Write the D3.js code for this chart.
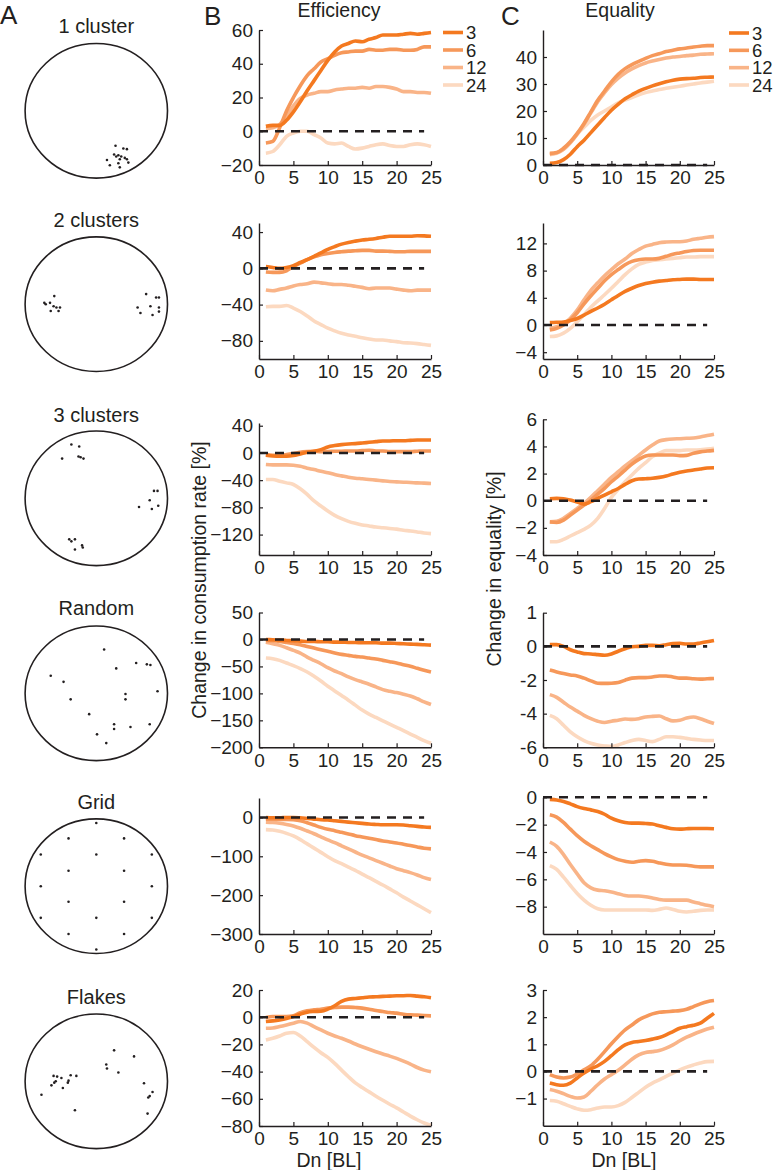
<!DOCTYPE html>
<html><head><meta charset="utf-8">
<script src="https://cdn.jsdelivr.net/npm/d3@7"></script>
<style>
body{margin:0;background:#fff}
text{font-family:"Liberation Sans",Arial,Helvetica,sans-serif;fill:#231f20}
</style>
</head><body>
<svg id="fig" width="774" height="1170"></svg>
<script>
// ---------------- DATA ----------------
const dn = d3.range(1, 26);                 // Dn [BL] = 1..25
const seriesNames = ["3", "6", "12", "24"];
const layoutNames = ["1 cluster", "2 clusters", "3 clusters", "Random", "Grid", "Flakes"];
const xTicks = [0, 5, 10, 15, 20, 25];

// Efficiency (change in consumption rate, %) — one array per series [3, 6, 12, 24]
const eff1Cluster = [
  [3,3.5,3.5,6.5,11.5,17.5,24,30,36,42,47,50.5,52,53.5,53,54.5,55.5,57,57,57,57.5,58,57.5,58,58.5],
  [-7,-6,2,12,20,27,33,37,41,43,45,46.5,47,47.5,47.5,48.5,48,48,48.5,48.5,48,48,48.5,50,50],
  [1.5,2,4,9,15,19.5,21.5,22.5,23.5,23.5,24.5,25,25.5,25.5,26,25.5,26.5,26.5,26,25,23.5,23.5,23,23,22.5],
  [-13,-12,-8,-3,-1,0,0,-2,-4,-7,-7.5,-7,-9,-10.5,-10,-9,-8,-7.5,-8.5,-9,-9,-8,-7.5,-8,-9]
];
const eff2Clusters = [
  [2,1,0,1,3,6.5,9.5,13.3,17,21,24,26.7,28.6,30,31.2,32,33,34.3,35.4,35.4,35.4,35.4,36,35.8,35.4],
  [-4,-4.5,-4.5,-2.7,2,5.7,9.5,12.6,15,16.4,17.5,18.3,19,19.4,19.8,19.8,19,19,18.7,18.3,18.3,18.7,18.7,18.7,18.7],
  [-24,-24.8,-23.2,-21.7,-19.4,-17.9,-17.1,-15.2,-16,-17,-17.9,-17.9,-18.7,-19.8,-21,-22.5,-21.7,-21.7,-21.7,-22.9,-24,-24.8,-24,-24,-24],
  [-42.3,-42,-42,-41,-43.8,-47.6,-52.6,-58,-62,-66,-69,-71.6,-73.5,-75,-76.6,-78,-79,-79,-80,-80.8,-82,-82.3,-83,-84,-85]
];
const eff3Clusters = [
  [-3.4,-4.4,-4.9,-4.9,-3.9,-1.5,1,2.5,4.9,8.8,10.8,12.2,13.2,13.7,14.6,15.6,16.6,17.6,17.6,18,18,18.5,19,19,19],
  [-2.5,-3.4,-3.4,-2.5,-1,1,2,2.5,2,2,2.5,2.5,2.9,2.9,3.4,3.9,2.9,2.9,2,2,2,2,2.5,2.9,2.9],
  [-17,-17.6,-17.6,-17.6,-18,-19.5,-22.4,-24.4,-27,-29,-31.7,-33.7,-35.7,-37.1,-38,-39,-40,-41,-42,-42.5,-43,-43.4,-44,-44.4,-44.9],
  [-39,-39,-41.5,-44,-46.4,-52.7,-61,-70.5,-78,-85.4,-91.8,-96.6,-100.6,-103.5,-105.8,-107.3,-108.9,-109.9,-111,-112,-113.6,-114.7,-116.1,-117.6,-118.6]
];
const effRandom = [
  [0,-0.6,-1.2,-1.8,-2.5,-3,-3.7,-3.7,-4.3,-4.3,-5,-5,-5.5,-5.5,-6.2,-6.2,-6.2,-6.8,-6.8,-7.4,-8,-8.6,-9.2,-9.8,-10.5],
  [-1.8,-2.5,-3.7,-5.5,-7.4,-9.8,-13,-16,-19,-22,-25,-27.7,-29.5,-31.4,-32.6,-34.5,-36.3,-38.8,-41.2,-43.7,-46.8,-49.8,-53.5,-57.2,-60.3],
  [-5,-8,-11,-15.4,-20.3,-25.2,-32.6,-38.8,-45,-52.3,-58.5,-63.4,-69.5,-74.5,-78.8,-83,-88,-93,-96,-98.5,-101.5,-105,-110,-115.7,-120.6],
  [-34.5,-35.7,-38.8,-43.7,-48.6,-54,-60.3,-68.3,-77,-86.8,-95.4,-104,-112.6,-121.8,-131,-138.5,-144.6,-150.8,-157,-163,-169,-175.4,-181.5,-187.7,-192.6]
];
const effGrid = [
  [0,-1,-1,0,0,-1,-2.6,-4.3,-6,-6.8,-8.5,-10.2,-12,-13.6,-15.3,-17,-18,-18.8,-18.8,-18.8,-19.6,-21.3,-23,-24.7,-25.6],
  [-4.3,-4.3,-5,-5,-6,-8.5,-13.6,-19.6,-25.6,-30.7,-34,-38.4,-42.6,-46.9,-50.3,-53.7,-57,-60.5,-63,-65.6,-69,-72.5,-75.9,-79.3,-81],
  [-12,-13,-15,-18,-22,-28,-35,-42,-50,-58,-65,-73,-81,-89,-97,-104,-111,-118,-125,-132,-137,-142,-148,-155,-160],
  [-31.5,-32.4,-35.8,-41,-47.7,-57,-68,-79,-90,-101,-111,-119,-128,-136,-146,-155,-164.5,-174,-184,-194,-205,-215,-225,-235,-245]
];
const effFlakes = [
  [-3.2,-2.7,-2,-1,0.5,2.2,3.7,4.2,4.4,5.9,8.4,11.6,13.3,13.8,14.3,14.8,15,15.3,15.5,15.8,15.8,16,15.5,15,14.3],
  [-0.2,0.5,0.5,0.5,1,3.4,4.7,5.4,5.9,6.7,7.1,7.4,7.4,7.1,6.7,5.9,4.9,4.2,3.4,3,2.2,1.7,1.5,1.2,1],
  [-8.1,-7.9,-6.9,-5.7,-4.4,-3.2,-4.4,-6.9,-9.4,-11.8,-13.8,-15.5,-17.5,-19.7,-21.7,-23.6,-25.4,-27.1,-28.6,-30.3,-32.3,-34.5,-37,-38.9,-40.1],
  [-16.7,-15.5,-13.8,-11.8,-11.3,-13.8,-18,-22.2,-26.1,-29.6,-34,-38.9,-43.8,-48.3,-51.7,-54.9,-58.1,-61.1,-64,-66.7,-69.7,-72.7,-75.4,-77.8,-79.6]
];

// Equality (change in equality, %)
const eq1Cluster = [
  [0.6,0.9,2,4,6.8,9.2,12,14.8,17.6,20.3,22.5,24.5,26,27.4,28.4,29.3,30.1,30.8,31.4,31.8,32,32.1,32.4,32.5,32.6],
  [4.3,4.6,6.2,8.6,11.7,15.4,19.7,24,27.4,30.8,33.6,35.7,37.2,38.4,39.5,40.5,41.2,42,42.5,43,43.3,43.7,44,44.2,44.2],
  [4,4.5,5.8,8.2,11.4,15.1,19.3,23.4,26.8,29.8,32.2,34.1,35.6,36.8,37.8,38.5,39.1,39.6,40,40.2,40.5,40.7,41,41.1,41.2],
  [3.8,4.3,5.8,8.5,11.5,14,16.5,18.5,20,21.5,23,24,25,26,26.8,27.4,28,28.4,28.8,29.2,29.6,30,30.4,30.7,31]
];
const eq2Clusters = [
  [0.35,0.4,0.45,0.65,0.95,1.45,2,2.5,3.05,3.7,4.35,4.95,5.4,5.8,6.1,6.3,6.45,6.55,6.65,6.7,6.75,6.75,6.7,6.7,6.7],
  [-0.75,-0.5,0,0.75,1.8,3.1,4.3,5.4,6.5,7.4,8.15,8.85,9.35,9.6,9.7,9.7,9.8,10.1,10.4,10.6,10.8,10.95,11,11,11],
  [-0.5,-0.25,0.15,1,2.2,3.7,5.1,6.2,7.25,8.15,9,9.7,10.5,11.1,11.6,11.85,12.1,12.2,12.25,12.25,12.35,12.6,12.75,12.9,13],
  [-1.7,-1.6,-1.2,-0.5,0.5,1.5,2.6,3.55,4.45,5.4,6.4,7.4,8.25,8.9,9.25,9.5,9.6,9.7,9.8,9.9,10,10,10.05,10.05,10.05]
];
const eq3Clusters = [
  [0.15,0.17,0.15,0.05,-0.1,-0.25,-0.07,0.17,0.42,0.66,0.9,1.2,1.47,1.6,1.62,1.65,1.72,1.82,1.97,2.1,2.19,2.26,2.34,2.41,2.43],
  [-1.57,-1.6,-1.43,-1.06,-0.69,-0.32,0.05,0.49,0.91,1.4,1.82,2.26,2.7,3.05,3.3,3.37,3.37,3.37,3.37,3.32,3.34,3.5,3.6,3.66,3.71],
  [-1.55,-1.52,-1.3,-0.93,-0.57,-0.2,0.25,0.74,1.23,1.72,2.14,2.56,2.95,3.34,3.74,4.1,4.4,4.5,4.55,4.57,4.6,4.62,4.7,4.8,4.9],
  [-3.02,-3.02,-2.85,-2.6,-2.36,-2.11,-1.8,-1.3,-0.57,0.25,0.84,1.4,1.9,2.39,2.8,3.25,3.5,3.69,3.69,3.69,3.74,3.74,3.76,3.81,3.86]
];
const eqRandom = [
  [0.1,0.1,0,-0.2,-0.33,-0.43,-0.45,-0.49,-0.53,-0.45,-0.29,-0.14,-0.02,0,0.06,0.06,0.04,0.1,0.16,0.18,0.14,0.14,0.2,0.27,0.35],
  [-1.41,-1.52,-1.62,-1.7,-1.76,-1.89,-2.05,-2.19,-2.2,-2.19,-2.15,-2.01,-1.89,-1.86,-1.86,-1.82,-1.76,-1.76,-1.82,-1.89,-1.89,-1.93,-1.95,-1.93,-1.91],
  [-2.87,-3.03,-3.32,-3.61,-3.85,-4.1,-4.3,-4.45,-4.53,-4.45,-4.39,-4.32,-4.34,-4.3,-4.2,-4.16,-4.14,-4.3,-4.43,-4.39,-4.26,-4.2,-4.3,-4.45,-4.59],
  [-4.1,-4.3,-4.69,-5.08,-5.37,-5.6,-5.76,-5.86,-5.92,-5.96,-5.86,-5.72,-5.6,-5.53,-5.6,-5.66,-5.53,-5.37,-5.37,-5.41,-5.47,-5.53,-5.57,-5.6,-5.6]
];
const eqGrid = [
  [-0.15,-0.2,-0.3,-0.48,-0.68,-0.82,-0.92,-1.04,-1.24,-1.53,-1.72,-1.84,-1.89,-1.89,-1.92,-1.96,-2.08,-2.2,-2.3,-2.33,-2.3,-2.28,-2.28,-2.28,-2.3],
  [-1.28,-1.45,-1.84,-2.33,-2.81,-3.22,-3.54,-3.83,-4.12,-4.36,-4.56,-4.68,-4.75,-4.68,-4.63,-4.68,-4.8,-4.9,-4.95,-4.95,-4.97,-5.04,-5.09,-5.09,-5.09],
  [-3.27,-3.59,-4.19,-4.92,-5.6,-6.25,-6.62,-6.79,-6.84,-6.93,-7.05,-7.18,-7.22,-7.22,-7.27,-7.37,-7.47,-7.52,-7.52,-7.52,-7.52,-7.66,-7.78,-7.9,-8],
  [-5,-5.28,-5.84,-6.45,-7.03,-7.52,-7.9,-8.15,-8.24,-8.24,-8.24,-8.24,-8.24,-8.24,-8.24,-8.27,-8.2,-8.1,-8.2,-8.34,-8.39,-8.34,-8.27,-8.24,-8.24]
];
const eqFlakes = [
  [-0.43,-0.49,-0.51,-0.43,-0.24,-0.06,0.09,0.21,0.37,0.58,0.8,0.98,1.07,1.1,1.14,1.19,1.25,1.35,1.47,1.59,1.65,1.7,1.78,1.96,2.14],
  [-0.12,-0.21,-0.24,-0.21,-0.09,0.06,0.21,0.45,0.73,1.02,1.29,1.53,1.71,1.9,2.02,2.12,2.18,2.2,2.22,2.24,2.29,2.39,2.49,2.57,2.61],
  [-0.67,-0.73,-0.82,-0.92,-0.98,-0.94,-0.73,-0.49,-0.28,-0.12,0.04,0.24,0.45,0.61,0.7,0.73,0.77,0.86,0.98,1.13,1.26,1.37,1.47,1.56,1.63],
  [-1.07,-1.1,-1.19,-1.29,-1.38,-1.43,-1.41,-1.35,-1.31,-1.31,-1.26,-1.14,-0.96,-0.77,-0.58,-0.43,-0.31,-0.18,-0.06,0.06,0.16,0.24,0.31,0.36,0.37]
];

const effDomains = [[-20,60],[-100,50],[-150,44],[-200,50],[-300,50],[-80,20]];
const effTicks = [[-20,0,20,40,60],[-80,-40,0,40],[-120,-80,-40,0,40],[-200,-150,-100,-50,0,50],[-300,-200,-100,0],[-80,-60,-40,-20,0,20]];
const eqDomains = [[0,50],[-5,15],[-4,6],[-6,2],[-10,0],[-2,3]];
const eqTicks = [[0,10,20,30,40],[-4,0,4,8,12],[-4,-2,0,2,4,6],[-6,-4,-2,0,2],[-8,-6,-4,-2,0],[-1,0,1,2,3]];
// tick labels as printed in the figure (the top tick of the "Random" equality panel reads "1")
const eqTickLabels = [null, null, null, ["-6","-4","-2","0","1"], null, null];

// Fish positions in the arena (unit-circle coordinates, y downward)
const pos1Cluster = [[0.27,0.52],[0.38,0.56],[0.43,0.57],[0.25,0.65],[0.31,0.66],[0.28,0.68],[0.35,0.68],[0.40,0.70],[0.33,0.72],[0.43,0.72],[0.15,0.73],[0.45,0.77],[0.31,0.78],[0.19,0.81],[0.33,0.84]];
const pos2Clusters = [[-0.59,-0.12],[-0.73,-0.02],[-0.71,0.00],[-0.65,-0.02],[-0.60,0.03],[-0.56,0.05],[-0.51,0.05],[-0.64,0.10],[-0.53,0.10],
  [0.70,-0.15],[0.84,-0.10],[0.88,-0.10],[0.58,0.05],[0.76,0.03],[0.88,0.05],[0.62,0.13],[0.79,0.16],[0.88,0.11]];
const pos3Clusters = [[-0.35,-0.80],[-0.24,-0.77],[-0.48,-0.59],[-0.25,-0.62],[-0.22,-0.61],[-0.18,-0.59],
  [0.81,-0.11],[0.86,-0.11],[0.75,0.03],[0.60,0.13],[0.78,0.16],[0.87,0.11],
  [-0.38,0.61],[-0.35,0.64],[-0.30,0.61],[-0.30,0.76],[-0.20,0.70],[-0.19,0.73]];
const posRandom = [[0.11,-0.65],[0.28,-0.37],[0.56,-0.45],[0.71,-0.43],[0.76,-0.42],[-0.64,-0.26],[-0.46,-0.17],[0.86,-0.03],[-0.36,0.09],[0.41,0.01],[0.41,0.09],[-0.10,0.31],[0.25,0.46],[0.25,0.53],[0.48,0.50],[0.75,0.46],[0.01,0.61],[0.14,0.74]];
const posGrid = [[0,-0.94],[-0.39,-0.71],[0.39,-0.71],[-0.78,-0.47],[0,-0.47],[0.78,-0.47],[-0.39,-0.23],[0.39,-0.23],[-0.78,0],[0.78,0],[-0.39,0.23],[0.39,0.23],[-0.78,0.47],[0,0.47],[0.78,0.47],[-0.39,0.71],[0.39,0.71],[0,0.94]];
const posFlakes = [[0.25,-0.46],[0.53,-0.37],[0.14,-0.25],[0.15,-0.19],[0.31,-0.13],[-0.60,-0.08],[-0.55,-0.07],[-0.49,-0.05],[-0.57,0.00],[-0.59,0.02],[-0.63,0.06],[-0.36,-0.09],[-0.28,-0.08],[-0.39,-0.01],[-0.40,0.02],[-0.47,0.10],[0.67,0.03],[0.79,0.16],[0.75,0.22],[0.73,0.24],[-0.77,0.20],[-0.30,0.43],[0.72,0.48]];

const effData = [eff1Cluster, eff2Clusters, eff3Clusters, effRandom, effGrid, effFlakes];
const eqData = [eq1Cluster, eq2Clusters, eq3Clusters, eqRandom, eqGrid, eqFlakes];
const posData = [pos1Cluster, pos2Clusters, pos3Clusters, posRandom, posGrid, posFlakes];

// ---------------- LAYOUT / STYLE ----------------
const colors = ["#F47920", "#F6985A", "#F9B488", "#FCD9C0"];
const ink = "#231f20";
const FS = 19;
const effX = [259, 431], eqX = [543, 714];
const effTop = [30, 223, 423, 612.5, 798, 990], effBot = [165, 359, 555, 747.3, 934, 1126];
const eqTop = [30, 223, 419.3, 612.7, 797.3, 990], eqBot = [165, 359, 555, 747.3, 934, 1125.7];
const circCx = 96.3, circRx = 71.2, circRy = 67.3;
const circCy = [110.8, 304.2, 498.3, 693.3, 886.2, 1081.3];
const titleY = [33, 227, 422, 615, 809, 1004];

const svg = d3.select("#fig");

function panel(data, domain, ticks, labels, xr, top, bot, legend) {
  const x = d3.scaleLinear().domain([0, 25]).range(xr);
  const y = d3.scaleLinear().domain(domain).range([bot, top]);
  const g = svg.append("g");
  const line = d3.line().x((d, i) => x(dn[i])).y(d => y(d)).curve(d3.curveMonotoneX);
  for (let s = 3; s >= 0; s--) {
    g.append("path").attr("d", line(data[s])).attr("fill", "none")
      .attr("stroke", colors[s]).attr("stroke-width", 3.6)
      .attr("stroke-linejoin", "round").attr("stroke-linecap", "butt");
  }
  g.append("line").attr("x1", x(0)).attr("x2", x(24)).attr("y1", y(0)).attr("y2", y(0))
    .attr("stroke", ink).attr("stroke-width", 2.6).attr("stroke-dasharray", "9,7");
  const ax = g.append("g").attr("transform", `translate(0,${bot})`)
    .call(d3.axisBottom(x).tickValues(xTicks).tickFormat(d3.format("d")).tickSize(-4).tickSizeOuter(0).tickPadding(6));
  const yFmt = labels ? (d, i) => labels[i] : d3.format("d");
  const ay = g.append("g").attr("transform", `translate(${xr[0]},0)`)
    .call(d3.axisLeft(y).tickValues(ticks).tickFormat(yFmt).tickSize(-4).tickSizeOuter(0).tickPadding(6));
  [ax, ay].forEach(a => {
    a.attr("font-family", null).attr("font-size", FS);
    a.select(".domain").attr("stroke", ink).attr("stroke-width", 1.4);
    a.selectAll(".tick line").attr("stroke", ink).attr("stroke-width", 1.2);
    a.selectAll(".tick text").attr("fill", ink);
  });
  if (legend) {
    const ly = d3.scalePoint().domain(seriesNames).range([legend.y0, legend.y1]);
    seriesNames.forEach((n, i) => {
      g.append("line").attr("x1", legend.x).attr("x2", legend.x + 20)
        .attr("y1", ly(n)).attr("y2", ly(n)).attr("stroke", colors[i]).attr("stroke-width", 3.6);
      g.append("text").attr("x", legend.x + 23).attr("y", ly(n)).attr("dy", "0.36em")
        .attr("font-size", 18.5).text(n);
    });
  }
}

for (let r = 0; r < 6; r++) {
  panel(effData[r], effDomains[r], effTicks[r], null, effX, effTop[r], effBot[r],
        r === 0 ? {x: 443, y0: 32.5, y1: 85} : null);
  panel(eqData[r], eqDomains[r], eqTicks[r], eqTickLabels[r], eqX, eqTop[r], eqBot[r],
        r === 0 ? {x: 729, y0: 33, y1: 85} : null);

  const cy = circCy[r];
  const ux = d3.scaleLinear().domain([-1, 1]).range([circCx - circRx, circCx + circRx]);
  const uy = d3.scaleLinear().domain([-1, 1]).range([cy - circRy, cy + circRy]);
  svg.append("ellipse").attr("cx", ux(0)).attr("cy", uy(0)).attr("rx", circRx).attr("ry", circRy)
    .attr("fill", "none").attr("stroke", ink).attr("stroke-width", 1.6);
  svg.append("g").selectAll("circle").data(posData[r]).join("circle")
    .attr("cx", d => ux(d[0])).attr("cy", d => uy(d[1])).attr("r", 1.3).attr("fill", ink);
  svg.append("text").attr("x", circCx).attr("y", titleY[r]).attr("text-anchor", "middle")
    .attr("font-size", 20).text(layoutNames[r]);
}

svg.append("text").attr("x", 0).attr("y", 24).attr("font-size", 26).text("A");
svg.append("text").attr("x", 204).attr("y", 25).attr("font-size", 26).text("B");
svg.append("text").attr("x", 501).attr("y", 25).attr("font-size", 26).text("C");
svg.append("text").attr("x", 339).attr("y", 17).attr("text-anchor", "middle").attr("font-size", 19.5).text("Efficiency");
svg.append("text").attr("x", 620).attr("y", 17).attr("text-anchor", "middle").attr("font-size", 19.5).text("Equality");

svg.append("text").attr("transform", "translate(206,580) rotate(-90)").attr("text-anchor", "middle")
  .attr("font-size", 19.5).text("Change in consumption rate [%]");
svg.append("text").attr("transform", "translate(501,569) rotate(-90)").attr("text-anchor", "middle")
  .attr("font-size", 19.5).text("Change in equality [%]");
svg.append("text").attr("x", 329).attr("y", 1167).attr("text-anchor", "middle").attr("font-size", 19.5).text("Dn [BL]");
svg.append("text").attr("x", 624).attr("y", 1167).attr("text-anchor", "middle").attr("font-size", 19.5).text("Dn [BL]");
</script>
</body></html>
